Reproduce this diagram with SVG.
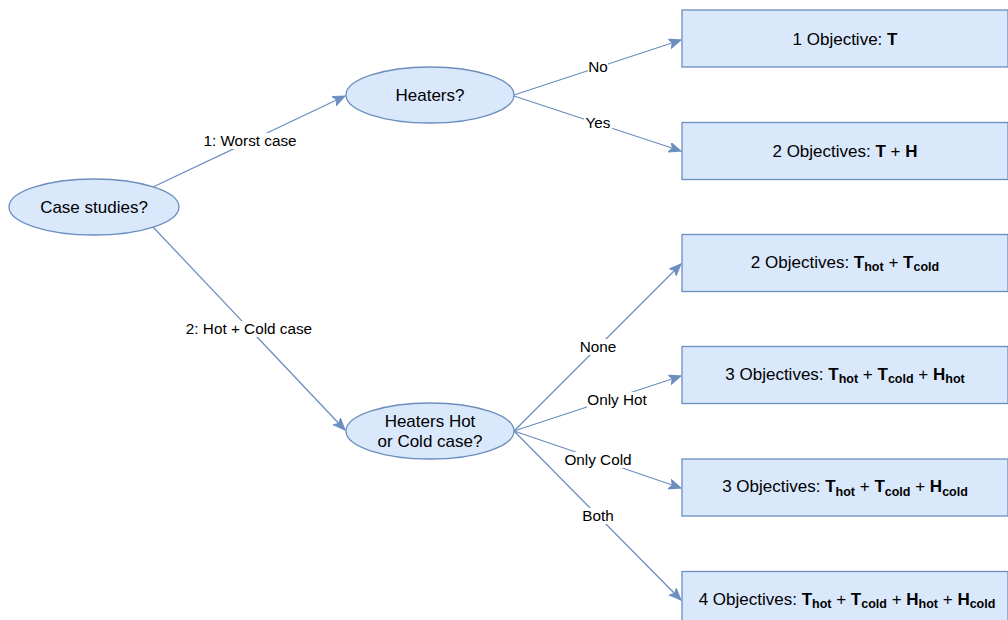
<svg xmlns="http://www.w3.org/2000/svg" width="1008" height="620" viewBox="0 0 1008 620">
  <style>
    .node { fill: #dae8fc; stroke: #6c8ebf; stroke-width: 1.3; }
    .txt { font-family: "Liberation Sans", Arial, sans-serif; font-size: 17px; fill: #000; text-anchor: middle; }
    .lbl { font-family: "Liberation Sans", Arial, sans-serif; font-size: 15.3px; fill: #000; text-anchor: middle; }
    .lblbg { fill: #ffffff; }
    .edge { fill: none; stroke: #6c8ebf; stroke-width: 1.3; marker-end: url(#arrow); }
    .b { font-weight: bold; }
    .sub { font-weight: bold; font-size: 12.5px; }
  </style>
  <defs>
    <marker id="arrow" markerUnits="userSpaceOnUse" markerWidth="14" markerHeight="12" refX="12" refY="5" orient="auto">
      <path d="M0,0 L12,5 L0,10 L3,5 Z" fill="#6c8ebf" stroke="#6c8ebf" stroke-width="1"/>
    </marker>
  </defs>
  <rect width="1008" height="620" fill="#ffffff"/>

  <!-- connectors and their labels -->
  <g id="connectors">
    <line class="edge" x1="153" y1="187" x2="345" y2="96"/>
    <line class="edge" x1="153" y1="227" x2="345" y2="430"/>
    <line class="edge" x1="514" y1="95" x2="681" y2="40"/>
    <line class="edge" x1="514" y1="96" x2="681" y2="151"/>
    <line class="edge" x1="514" y1="431" x2="681" y2="264"/>
    <line class="edge" x1="514" y1="431" x2="681" y2="376"/>
    <line class="edge" x1="514" y1="431" x2="681" y2="488"/>
    <line class="edge" x1="514" y1="431" x2="681" y2="600"/>

    <rect class="lblbg" x="203" y="133" width="95" height="16"/>
    <text class="lbl" x="250" y="146">1: Worst case</text>
    <rect class="lblbg" x="186" y="321" width="126" height="16"/>
    <text class="lbl" x="249" y="334">2: Hot + Cold case</text>
    <rect class="lblbg" x="588" y="59" width="20" height="16"/>
    <text class="lbl" x="598" y="72">No</text>
    <rect class="lblbg" x="584" y="115" width="28" height="16"/>
    <text class="lbl" x="598" y="128">Yes</text>
    <rect class="lblbg" x="579" y="339" width="38" height="16"/>
    <text class="lbl" x="598" y="352">None</text>
    <rect class="lblbg" x="587" y="392" width="61" height="16"/>
    <text class="lbl" x="617" y="405">Only Hot</text>
    <rect class="lblbg" x="564" y="452" width="68" height="16"/>
    <text class="lbl" x="598" y="465">Only Cold</text>
    <rect class="lblbg" x="581" y="508" width="34" height="16"/>
    <text class="lbl" x="598" y="521">Both</text>
  </g>

  <!-- decision nodes -->
  <g id="case-studies">
    <ellipse class="node" cx="94" cy="207" rx="85" ry="28"/>
    <text class="txt" x="94" y="213">Case studies?</text>
  </g>
  <g id="heaters">
    <ellipse class="node" cx="430" cy="95" rx="84" ry="28"/>
    <text class="txt" x="430" y="101">Heaters?</text>
  </g>
  <g id="heaters-hot-cold">
    <ellipse class="node" cx="430" cy="431" rx="84" ry="28"/>
    <text class="txt" x="430" y="427">Heaters Hot</text>
    <text class="txt" x="430" y="447">or Cold case?</text>
  </g>

  <!-- objective boxes -->
  <g id="obj-t">
    <rect class="node" x="682" y="10" width="326" height="57"/>
    <text class="txt" x="845" y="44.5">1 Objective: <tspan class="b">T</tspan></text>
  </g>
  <g id="obj-t-h">
    <rect class="node" x="682" y="122.5" width="326" height="57"/>
    <text class="txt" x="845" y="157">2 Objectives: <tspan class="b">T</tspan> + <tspan class="b">H</tspan></text>
  </g>
  <g id="obj-thot-tcold">
    <rect class="node" x="682" y="234.5" width="326" height="57"/>
    <text class="txt" x="845" y="267.5">2 Objectives: <tspan class="b">T</tspan><tspan class="sub" dy="3.5">hot</tspan><tspan dy="-3.5"> + </tspan><tspan class="b">T</tspan><tspan class="sub" dy="3.5">cold</tspan></text>
  </g>
  <g id="obj-thot-tcold-hhot">
    <rect class="node" x="682" y="346.5" width="326" height="57"/>
    <text class="txt" x="845" y="379.5">3 Objectives: <tspan class="b">T</tspan><tspan class="sub" dy="3.5">hot</tspan><tspan dy="-3.5"> + </tspan><tspan class="b">T</tspan><tspan class="sub" dy="3.5">cold</tspan><tspan dy="-3.5"> + </tspan><tspan class="b">H</tspan><tspan class="sub" dy="3.5">hot</tspan></text>
  </g>
  <g id="obj-thot-tcold-hcold">
    <rect class="node" x="682" y="459" width="326" height="57"/>
    <text class="txt" x="845" y="492">3 Objectives: <tspan class="b">T</tspan><tspan class="sub" dy="3.5">hot</tspan><tspan dy="-3.5"> + </tspan><tspan class="b">T</tspan><tspan class="sub" dy="3.5">cold</tspan><tspan dy="-3.5"> + </tspan><tspan class="b">H</tspan><tspan class="sub" dy="3.5">cold</tspan></text>
  </g>
  <g id="obj-all">
    <rect class="node" x="682" y="571.5" width="326" height="57"/>
    <text class="txt" x="847" y="604.5">4 Objectives: <tspan class="b">T</tspan><tspan class="sub" dy="3.5">hot</tspan><tspan dy="-3.5"> + </tspan><tspan class="b">T</tspan><tspan class="sub" dy="3.5">cold</tspan><tspan dy="-3.5"> + </tspan><tspan class="b">H</tspan><tspan class="sub" dy="3.5">hot</tspan><tspan dy="-3.5"> + </tspan><tspan class="b">H</tspan><tspan class="sub" dy="3.5">cold</tspan></text>
  </g>
</svg>
